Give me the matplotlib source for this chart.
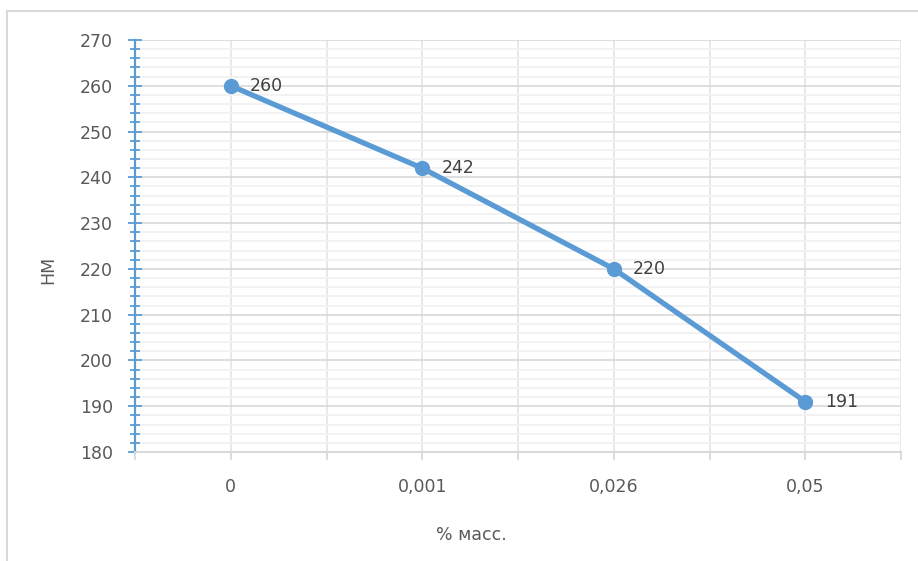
import matplotlib
matplotlib.use("Agg")
import matplotlib.pyplot as plt
from matplotlib.patches import Rectangle
from matplotlib.ticker import MultipleLocator, FixedLocator

# hardness vs. additive content
categories = ["0", "0,001", "0,026", "0,05"]
hardness = [260, 242, 220, 191]

blue = "#5b9bd5"
text_grey = "#595959"

plt.rcParams["font.family"] = ["DejaVu Sans"]

fig = plt.figure(figsize=(9.18, 5.61), dpi=100)
W, H = 918, 561

# light frame around the chart (right and bottom edges run off the canvas)
fig.patches.append(Rectangle((7 / W, -0.05), 1.2, 1 - 11 / H + 0.05,
                             transform=fig.transFigure, fill=False,
                             edgecolor="#d9d9d9", linewidth=1.5))

ax = fig.add_axes([135 / W, 1 - 452 / H, (901 - 135) / W, (452 - 40) / H])

x = list(range(len(categories)))
ax.plot(x, hardness, color=blue, linewidth=3.8, marker="o", markersize=10,
        solid_capstyle="round", zorder=3)
for xi, v in zip(x, hardness):
    ax.annotate(str(v), (xi, v), xytext=(14, 0), textcoords="offset points",
                ha="left", va="center", fontsize=12.5, color="#404040")

ax.set_xlim(-0.5, len(categories) - 0.5)
ax.set_ylim(180, 270)

ax.set_xticks(x)
ax.set_xticklabels(categories)
ax.xaxis.set_minor_locator(FixedLocator([i - 0.5 for i in range(len(categories) + 1)]))
ax.yaxis.set_major_locator(MultipleLocator(10))
ax.yaxis.set_minor_locator(MultipleLocator(2))

ax.set_axisbelow(True)
ax.grid(which="major", axis="y", color="#d9d9d9", linewidth=1.2)
ax.grid(which="minor", axis="y", color="#f2f2f2", linewidth=1.4)
ax.grid(which="both", axis="x", color="#e8e8e8", linewidth=1.4)

for side in ("top", "right"):
    ax.spines[side].set_visible(False)
ax.spines["left"].set_color(blue)
ax.spines["left"].set_linewidth(1.6)
ax.spines["bottom"].set_color("#d9d9d9")
ax.spines["bottom"].set_linewidth(1.4)

ax.tick_params(axis="y", which="major", direction="inout", length=10, width=1.3,
               color=blue, labelsize=12.5, labelcolor=text_grey, pad=11)
ax.tick_params(axis="y", which="minor", direction="inout", length=7, width=1.3,
               color=blue)
ax.tick_params(axis="x", which="both", direction="out", length=6, width=1.3,
               color="#d9d9d9")
ax.tick_params(axis="x", which="major", labelsize=12.5, labelcolor=text_grey, pad=13)

ax.set_xlabel("% масс.", fontsize=12.5, color=text_grey, va="center")
ax.xaxis.set_label_coords(0.439, -0.2015)
ax.set_ylabel("НМ", fontsize=12.5, color=text_grey, va="center")
ax.yaxis.set_label_coords(-0.1136, 0.4417)

fig.savefig("out.png", dpi=100)
